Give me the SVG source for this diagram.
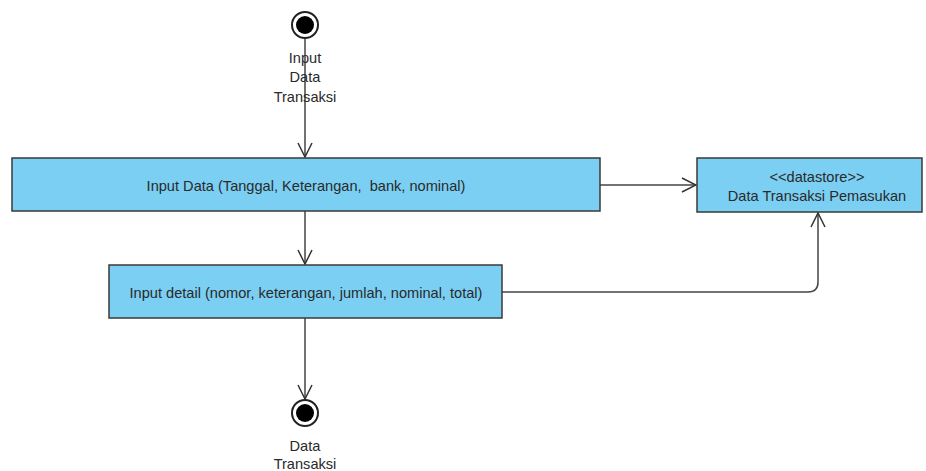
<svg xmlns="http://www.w3.org/2000/svg" width="926" height="471" viewBox="0 0 926 471">
<style>
.box{fill:#7acff3;stroke:#3a3a3a;stroke-width:1.5}
.t{font-family:"Liberation Sans",Arial,sans-serif;font-size:14.6px;fill:#2a2a2a;text-anchor:middle;white-space:pre}
.c{fill:none;stroke:#444;stroke-width:1.5}
</style>
<defs>
<marker id="ah" markerWidth="16" markerHeight="16" refX="15" refY="8" orient="auto" markerUnits="userSpaceOnUse">
<path d="M1,1 L15,8 L1,15" fill="none" stroke="#333" stroke-width="1.5"/>
</marker>
</defs>
<rect width="926" height="471" fill="#fff"/>
<g id="connectors">
<line class="c" x1="305" y1="39" x2="305" y2="157" marker-end="url(#ah)"/>
<line class="c" x1="600" y1="185" x2="696" y2="185" marker-end="url(#ah)"/>
<line class="c" x1="305" y1="211" x2="305" y2="264" marker-end="url(#ah)"/>
<path class="c" d="M502,292 L808,292 Q818,292 818,282 L818,213" marker-end="url(#ah)"/>
<line class="c" x1="305" y1="318" x2="305" y2="399" marker-end="url(#ah)"/>
</g>
<g id="start">
<circle cx="305" cy="25" r="13" fill="#fff" stroke="#222" stroke-width="2"/>
<circle cx="305" cy="25" r="9" fill="#000"/>
<text class="t" x="305" y="63">Input</text>
<text class="t" x="305" y="82">Data</text>
<text class="t" x="305" y="102">Transaksi</text>
</g>
<g id="input-data">
<rect class="box" x="12" y="158" width="588" height="53"/>
<text class="t" x="306" y="191" xml:space="preserve">Input Data (Tanggal, Keterangan,  bank, nominal)</text>
</g>
<g id="datastore">
<rect class="box" x="697" y="158" width="225" height="54"/>
<text class="t" x="817" y="182">&lt;&lt;datastore&gt;&gt;</text>
<text class="t" x="817" y="201">Data Transaksi Pemasukan</text>
</g>
<g id="input-detail">
<rect class="box" x="109" y="265" width="393" height="53"/>
<text class="t" x="306" y="298">Input detail (nomor, keterangan, jumlah, nominal, total)</text>
</g>
<g id="end">
<circle cx="305" cy="413" r="13" fill="#fff" stroke="#222" stroke-width="2"/>
<circle cx="305" cy="413" r="9" fill="#000"/>
<text class="t" x="305" y="451">Data</text>
<text class="t" x="305" y="469">Transaksi</text>
</g>
</svg>
